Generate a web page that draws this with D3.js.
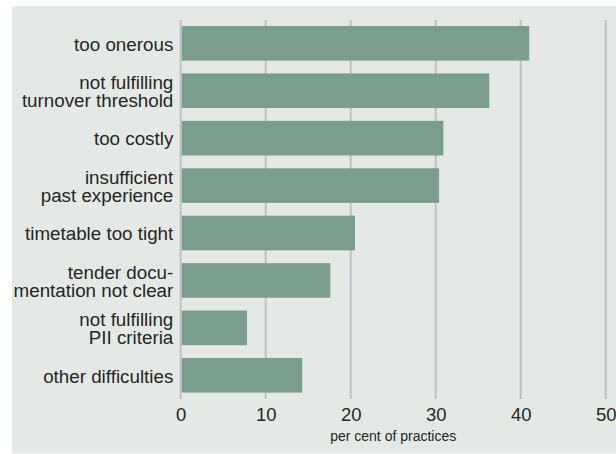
<!DOCTYPE html>
<html>
<head>
<meta charset="utf-8">
<script src="https://cdn.jsdelivr.net/npm/d3@7"></script>
<style>
  html, body { margin: 0; padding: 0; background: #ffffff; }
  svg { display: block; }
  text { font-family: "Liberation Sans", Arial, sans-serif; fill: #262626; }
</style>
</head>
<body>
<svg id="chart" width="616" height="454"></svg>
<script>
// Data
const categories = [
  "too onerous",
  "not fulfilling\nturnover threshold",
  "too costly",
  "insufficient\npast experience",
  "timetable too tight",
  "tender docu-\nmentation not clear",
  "not fulfilling\nPII criteria",
  "other difficulties"
];
const values = [41.0, 36.3, 30.9, 30.4, 20.5, 17.6, 7.8, 14.3];
const tickValues = [0, 10, 20, 30, 40, 50];
const axisTitle = "per cent of practices";

const svg = d3.select("#chart");
const W = 616, H = 454;

// Panel background
svg.append("rect")
  .attr("x", 12).attr("y", 6)
  .attr("width", W - 12).attr("height", 447.5)
  .attr("fill", "#e4e9e5");

const x = d3.scaleLinear().domain([0, 50]).range([180.7, 605.7]);
const y = d3.scaleBand().domain(categories).range([19.6, 399])
  .paddingInner(0.27).paddingOuter(0.135);

// Grid lines (behind bars)
svg.append("g").selectAll("line")
  .data(tickValues.filter(d => d !== 0))
  .join("line")
  .attr("x1", d => x(d)).attr("x2", d => x(d))
  .attr("y1", 20).attr("y2", 399)
  .attr("stroke", "#c1c1c5").attr("stroke-width", 2);

// Bars
svg.append("g").selectAll("rect")
  .data(categories)
  .join("rect")
  .attr("x", x(0) + 0.8)
  .attr("y", d => y(d))
  .attr("width", (d, i) => x(values[i]) - x(0) - 0.8)
  .attr("height", y.bandwidth())
  .attr("fill", "#7a9d8e");

// Zero line
svg.append("line")
  .attr("x1", x(0)).attr("x2", x(0))
  .attr("y1", 20).attr("y2", 399)
  .attr("stroke", "#c1c1c5").attr("stroke-width", 2);

// Category labels
const lab = svg.append("g").selectAll("text")
  .data(categories)
  .join("text")
  .attr("text-anchor", "end")
  .attr("font-size", 18.8)
  .attr("x", 173.3)
  .attr("y", d => y(d) + y.bandwidth() / 2);
lab.each(function(d) {
  const lines = d.split("\n");
  const lh = 17.6;
  const t = d3.select(this);
  lines.forEach((ln, j) => {
    t.append("tspan")
      .attr("x", 173.3)
      .attr("dy", j === 0 ? ((-(lines.length - 1) * lh) / 2 + 7.3) : lh)
      .text(ln);
  });
});

// X axis tick labels
const axis = d3.axisBottom(x).tickValues(tickValues).tickSize(0).tickPadding(0).tickFormat(d3.format("d"));
const gx = svg.append("g").attr("transform", "translate(0,407)").call(axis);
gx.select(".domain").remove();
gx.selectAll("text")
  .attr("font-size", 18.5)
  .attr("dy", "0.76em")
  .attr("fill", "#262626")
  .style("font-family", "'Liberation Sans', Arial, sans-serif");

// Axis title
svg.append("text")
  .attr("x", (x(0) + x(50)) / 2)
  .attr("y", 441)
  .attr("text-anchor", "middle")
  .attr("font-size", 14)
  .text(axisTitle);
</script>
</body>
</html>
